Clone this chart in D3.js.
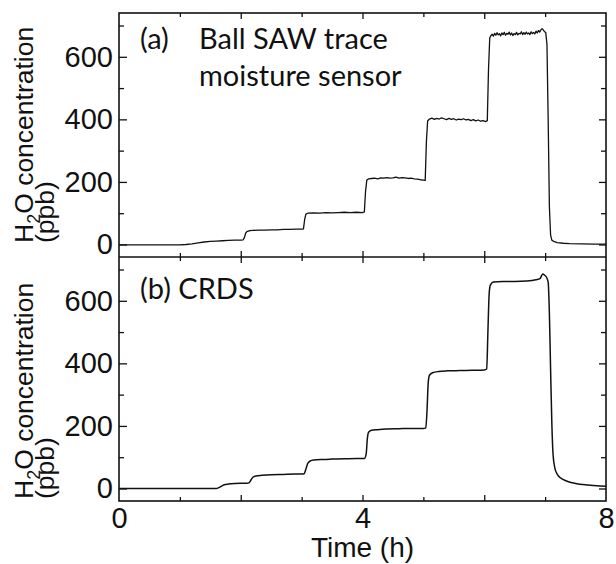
<!DOCTYPE html>
<html>
<head>
<meta charset="utf-8">
<script src="https://cdn.jsdelivr.net/npm/d3@7"></script>
<style>
  html, body { margin: 0; padding: 0; background: #fff; }
  svg { display: block; }
</style>
</head>
<body>
<svg id="chart" width="616" height="564"></svg>
<script>
// ---------------- DATA ----------------
const xTickLabels = [0, 4, 8];
const xMajorTicks = [0, 2, 4, 6, 8];
const xMinorTicks = [1, 3, 5, 7];
const yTickLabels = [0, 200, 400, 600];
const yMinorTicks = [100, 300, 500, 700];

// (a) Ball SAW trace moisture sensor
const sawTime = [0, 0.4, 0.8, 1.0, 1.1, 1.2, 1.3, 1.4, 1.5, 1.6, 1.7, 1.8, 1.9, 2.0, 2.04, 2.06, 2.08, 2.1, 2.15, 2.2, 2.3, 2.4, 2.5, 2.6, 2.7, 2.8, 2.9, 3.0,
  3.03, 3.05, 3.07, 3.1, 3.2, 3.3, 3.4, 3.5, 3.6, 3.7, 3.8, 3.9, 4.0,
  4.03, 4.05, 4.07, 4.1, 4.15, 4.2, 4.25, 4.3, 4.35, 4.4, 4.45, 4.5, 4.55, 4.6, 4.65, 4.7, 4.75, 4.8, 4.85, 4.9, 4.95, 5.0,
  5.03, 5.05, 5.07, 5.1, 5.14, 5.18, 5.22, 5.26, 5.3, 5.34, 5.38, 5.42, 5.46, 5.5, 5.54, 5.58, 5.62, 5.66, 5.7, 5.74, 5.78, 5.82, 5.86, 5.9, 5.94, 5.98, 6.02, 6.05,
  6.07, 6.09, 6.11, 6.13, 6.15, 6.17, 6.19, 6.21, 6.23, 6.25, 6.27, 6.29, 6.31, 6.33, 6.35, 6.37, 6.39, 6.41, 6.43, 6.45, 6.47, 6.49, 6.51, 6.53, 6.55, 6.57, 6.59,
  6.61, 6.63, 6.65, 6.67, 6.69, 6.71, 6.73, 6.75, 6.77, 6.79, 6.81, 6.83, 6.85, 6.87, 6.89, 6.91, 6.93, 6.95, 6.97, 6.99, 7.01,
  7.03, 7.05, 7.07, 7.09, 7.11, 7.15, 7.2, 7.3, 7.4, 7.6, 7.8, 8.0];
const sawValue = [-1, -1, -1, -1, 0, 2, 5, 8, 10, 11, 12, 13, 14, 14, 15, 22, 36, 41, 44, 45, 46, 46, 47, 47, 48, 48, 49, 49,
  50, 80, 97, 100, 101, 100, 102, 101, 102, 103, 102, 103, 102,
  104, 170, 205, 210, 211, 212, 210, 213, 212, 214, 212, 213, 215, 212, 214, 213, 211, 212, 210, 209, 207, 206,
  205, 330, 395, 401, 404, 400, 403, 401, 405, 402, 399, 403, 400, 402, 398, 401, 399, 402, 398, 400, 396, 399, 395, 398, 394, 396, 393, 396,
  560, 660, 668, 672, 666, 675, 669, 677, 670, 674, 667, 676, 671, 678, 669, 675, 672, 679, 670, 676, 668, 674, 671, 678, 670, 675, 673,
  680, 671, 677, 672, 679, 673, 676, 671, 680, 674, 678, 673, 682, 676, 684, 679, 686, 690, 686, 680, 678,
  640, 400, 120, 30, 14, 9, 6, 4, 3, 2, 1, 1];

// (b) CRDS
const crdsTime = [0, 0.5, 1.0, 1.5, 1.6, 1.63, 1.67, 1.72, 1.8, 1.9, 2.0, 2.1, 2.14, 2.17, 2.2, 2.25, 2.35, 2.5, 2.7, 2.9, 3.0,
  3.04, 3.07, 3.1, 3.14, 3.2, 3.35, 3.5, 3.7, 3.9, 4.03, 4.06, 4.08, 4.1, 4.15, 4.25, 4.4, 4.6, 4.8, 5.0,
  5.04, 5.06, 5.08, 5.1, 5.15, 5.25, 5.4, 5.6, 5.8, 6.0, 6.04, 6.06, 6.08, 6.1, 6.15, 6.3, 6.5, 6.7, 6.85, 6.92, 6.96, 6.99,
  7.02, 7.05, 7.07, 7.09, 7.11, 7.13, 7.16, 7.2, 7.26, 7.35, 7.5, 7.7, 7.9, 8.0];
const crdsValue = [0, 0, 0, 0, 0, 2, 6, 11, 14, 16, 17, 17, 19, 28, 36, 40, 42, 44, 45, 46, 46,
  47, 62, 80, 88, 91, 93, 94, 95, 96, 96, 110, 160, 180, 186, 188, 190, 191, 192, 192,
  194, 250, 340, 362, 370, 374, 376, 377, 378, 379, 382, 500, 620, 650, 660, 662, 662, 663, 667, 672, 686, 682,
  676, 660, 560, 380, 210, 110, 65, 45, 33, 24, 16, 11, 8, 7];

const panelLabels = ["(a)", "(b) CRDS"];
const sawLabelLines = ["Ball SAW trace", "moisture sensor"];
const yTitle = ["H", "2", "O concentration"];
const yUnit = "(ppb)";
const xTitle = "Time (h)";

// ---------------- LAYOUT ----------------
const L = 119, R = 606, T = 13, MID = 257, B = 501;
const ink = "#111";
const svg = d3.select("#chart");

const x = d3.scaleLinear().domain([0, 8]).range([L, R]);
const yTop = d3.scaleLinear().domain([-40, 740]).range([MID, T]);
const yBot = d3.scaleLinear().domain([-40, 740]).range([B, MID]);

const tickFont = "Arial, 'Liberation Sans', Helvetica, sans-serif";

function styleAxis(g) {
  g.select(".domain").remove();
  g.selectAll(".tick line").attr("stroke", ink).attr("stroke-width", 1.3);
  g.selectAll(".tick text").attr("fill", ink).style("font-family", tickFont).style("font-size", "29px");
}

function drawPanel(y, y0, y1, showXLabels) {
  // left axis
  svg.append("g").attr("transform", `translate(${L},0)`)
    .call(d3.axisLeft(y).tickValues(yTickLabels).tickSize(-8).tickPadding(6).tickFormat(d3.format("d")))
    .call(styleAxis);
  svg.append("g").attr("transform", `translate(${L},0)`)
    .call(d3.axisLeft(y).tickValues(yMinorTicks).tickSize(-5).tickFormat(""))
    .call(styleAxis);
  // right axis
  svg.append("g").attr("transform", `translate(${R},0)`)
    .call(d3.axisRight(y).tickValues(yTickLabels).tickSize(-7).tickFormat(""))
    .call(styleAxis);
  svg.append("g").attr("transform", `translate(${R},0)`)
    .call(d3.axisRight(y).tickValues(yMinorTicks).tickSize(-5).tickFormat(""))
    .call(styleAxis);
  // top axis (inward = down)
  svg.append("g").attr("transform", `translate(0,${y1})`)
    .call(d3.axisTop(x).tickValues(xMajorTicks.slice(1, -1)).tickSize(-6).tickFormat(""))
    .call(styleAxis);
  svg.append("g").attr("transform", `translate(0,${y1})`)
    .call(d3.axisTop(x).tickValues(xMinorTicks).tickSize(-4).tickFormat(""))
    .call(styleAxis);
  // bottom axis (inward = up)
  svg.append("g").attr("transform", `translate(0,${y0})`)
    .call(d3.axisBottom(x).tickValues(xMajorTicks.slice(1, -1)).tickSize(-6).tickFormat(""))
    .call(styleAxis);
  svg.append("g").attr("transform", `translate(0,${y0})`)
    .call(d3.axisBottom(x).tickValues(xMinorTicks).tickSize(-4).tickFormat(""))
    .call(styleAxis);
  if (showXLabels) {
    svg.append("g").attr("transform", `translate(0,${y0})`)
      .call(d3.axisBottom(x).tickValues(xTickLabels).tickSize(0).tickPadding(6).tickFormat(d3.format("d")))
      .call(styleAxis);
  }
}

drawPanel(yTop, MID, T, false);
drawPanel(yBot, B, MID, true);

// data lines
const sawData = sawTime.map((t, i) => [t, sawValue[i]]);
const crdsData = crdsTime.map((t, i) => [t, crdsValue[i]]);

svg.append("path").datum(sawData)
  .attr("fill", "none").attr("stroke", ink).attr("stroke-width", 1.3).attr("stroke-linejoin", "round")
  .attr("d", d3.line().x(d => x(d[0])).y(d => yTop(d[1])));
svg.append("path").datum(crdsData)
  .attr("fill", "none").attr("stroke", ink).attr("stroke-width", 1.5).attr("stroke-linejoin", "round")
  .attr("d", d3.line().curve(d3.curveMonotoneX).x(d => x(d[0])).y(d => yBot(d[1])));

// frame
svg.append("rect").attr("x", L).attr("y", T).attr("width", R - L).attr("height", B - T)
  .attr("fill", "none").attr("stroke", ink).attr("stroke-width", 1.6);
svg.append("line").attr("x1", L).attr("x2", R).attr("y1", MID).attr("y2", MID)
  .attr("stroke", ink).attr("stroke-width", 1.6);

// panel labels
const labFont = "Lato, 'Open Sans', sans-serif";
svg.append("text").attr("x", 140).attr("y", 49).text(panelLabels[0])
  .attr("fill", ink).style("font-family", labFont).style("font-size", "29px");
sawLabelLines.forEach((s, i) => {
  svg.append("text").attr("x", 199).attr("y", 49 + i * 37).text(s)
    .attr("fill", ink).style("font-family", labFont).style("font-size", "29px");
});
svg.append("text").attr("x", 140).attr("y", 299).text(panelLabels[1])
  .attr("fill", ink).style("font-family", labFont).style("font-size", "29px");

// y titles
function yTitleAt(yStart) {
  const t1 = svg.append("text")
    .attr("transform", `translate(33,${yStart}) rotate(-90)`)
    .attr("fill", ink).style("font-family", tickFont).style("font-size", "26.5px");
  t1.append("tspan").text(yTitle[0]);
  t1.append("tspan").text(yTitle[1]).attr("dy", 7).style("font-size", "18px");
  t1.append("tspan").text(yTitle[2]).attr("dy", -7);
  svg.append("text")
    .attr("transform", `translate(54,${yStart}) rotate(-90)`)
    .attr("fill", ink).style("font-family", tickFont).style("font-size", "26.5px")
    .text(yUnit);
}
yTitleAt(243);
yTitleAt(499);

// x title
svg.append("text").attr("x", (L + R) / 2).attr("y", 557).attr("text-anchor", "middle")
  .attr("fill", ink).style("font-family", tickFont).style("font-size", "28px").text(xTitle);
</script>
</body>
</html>
